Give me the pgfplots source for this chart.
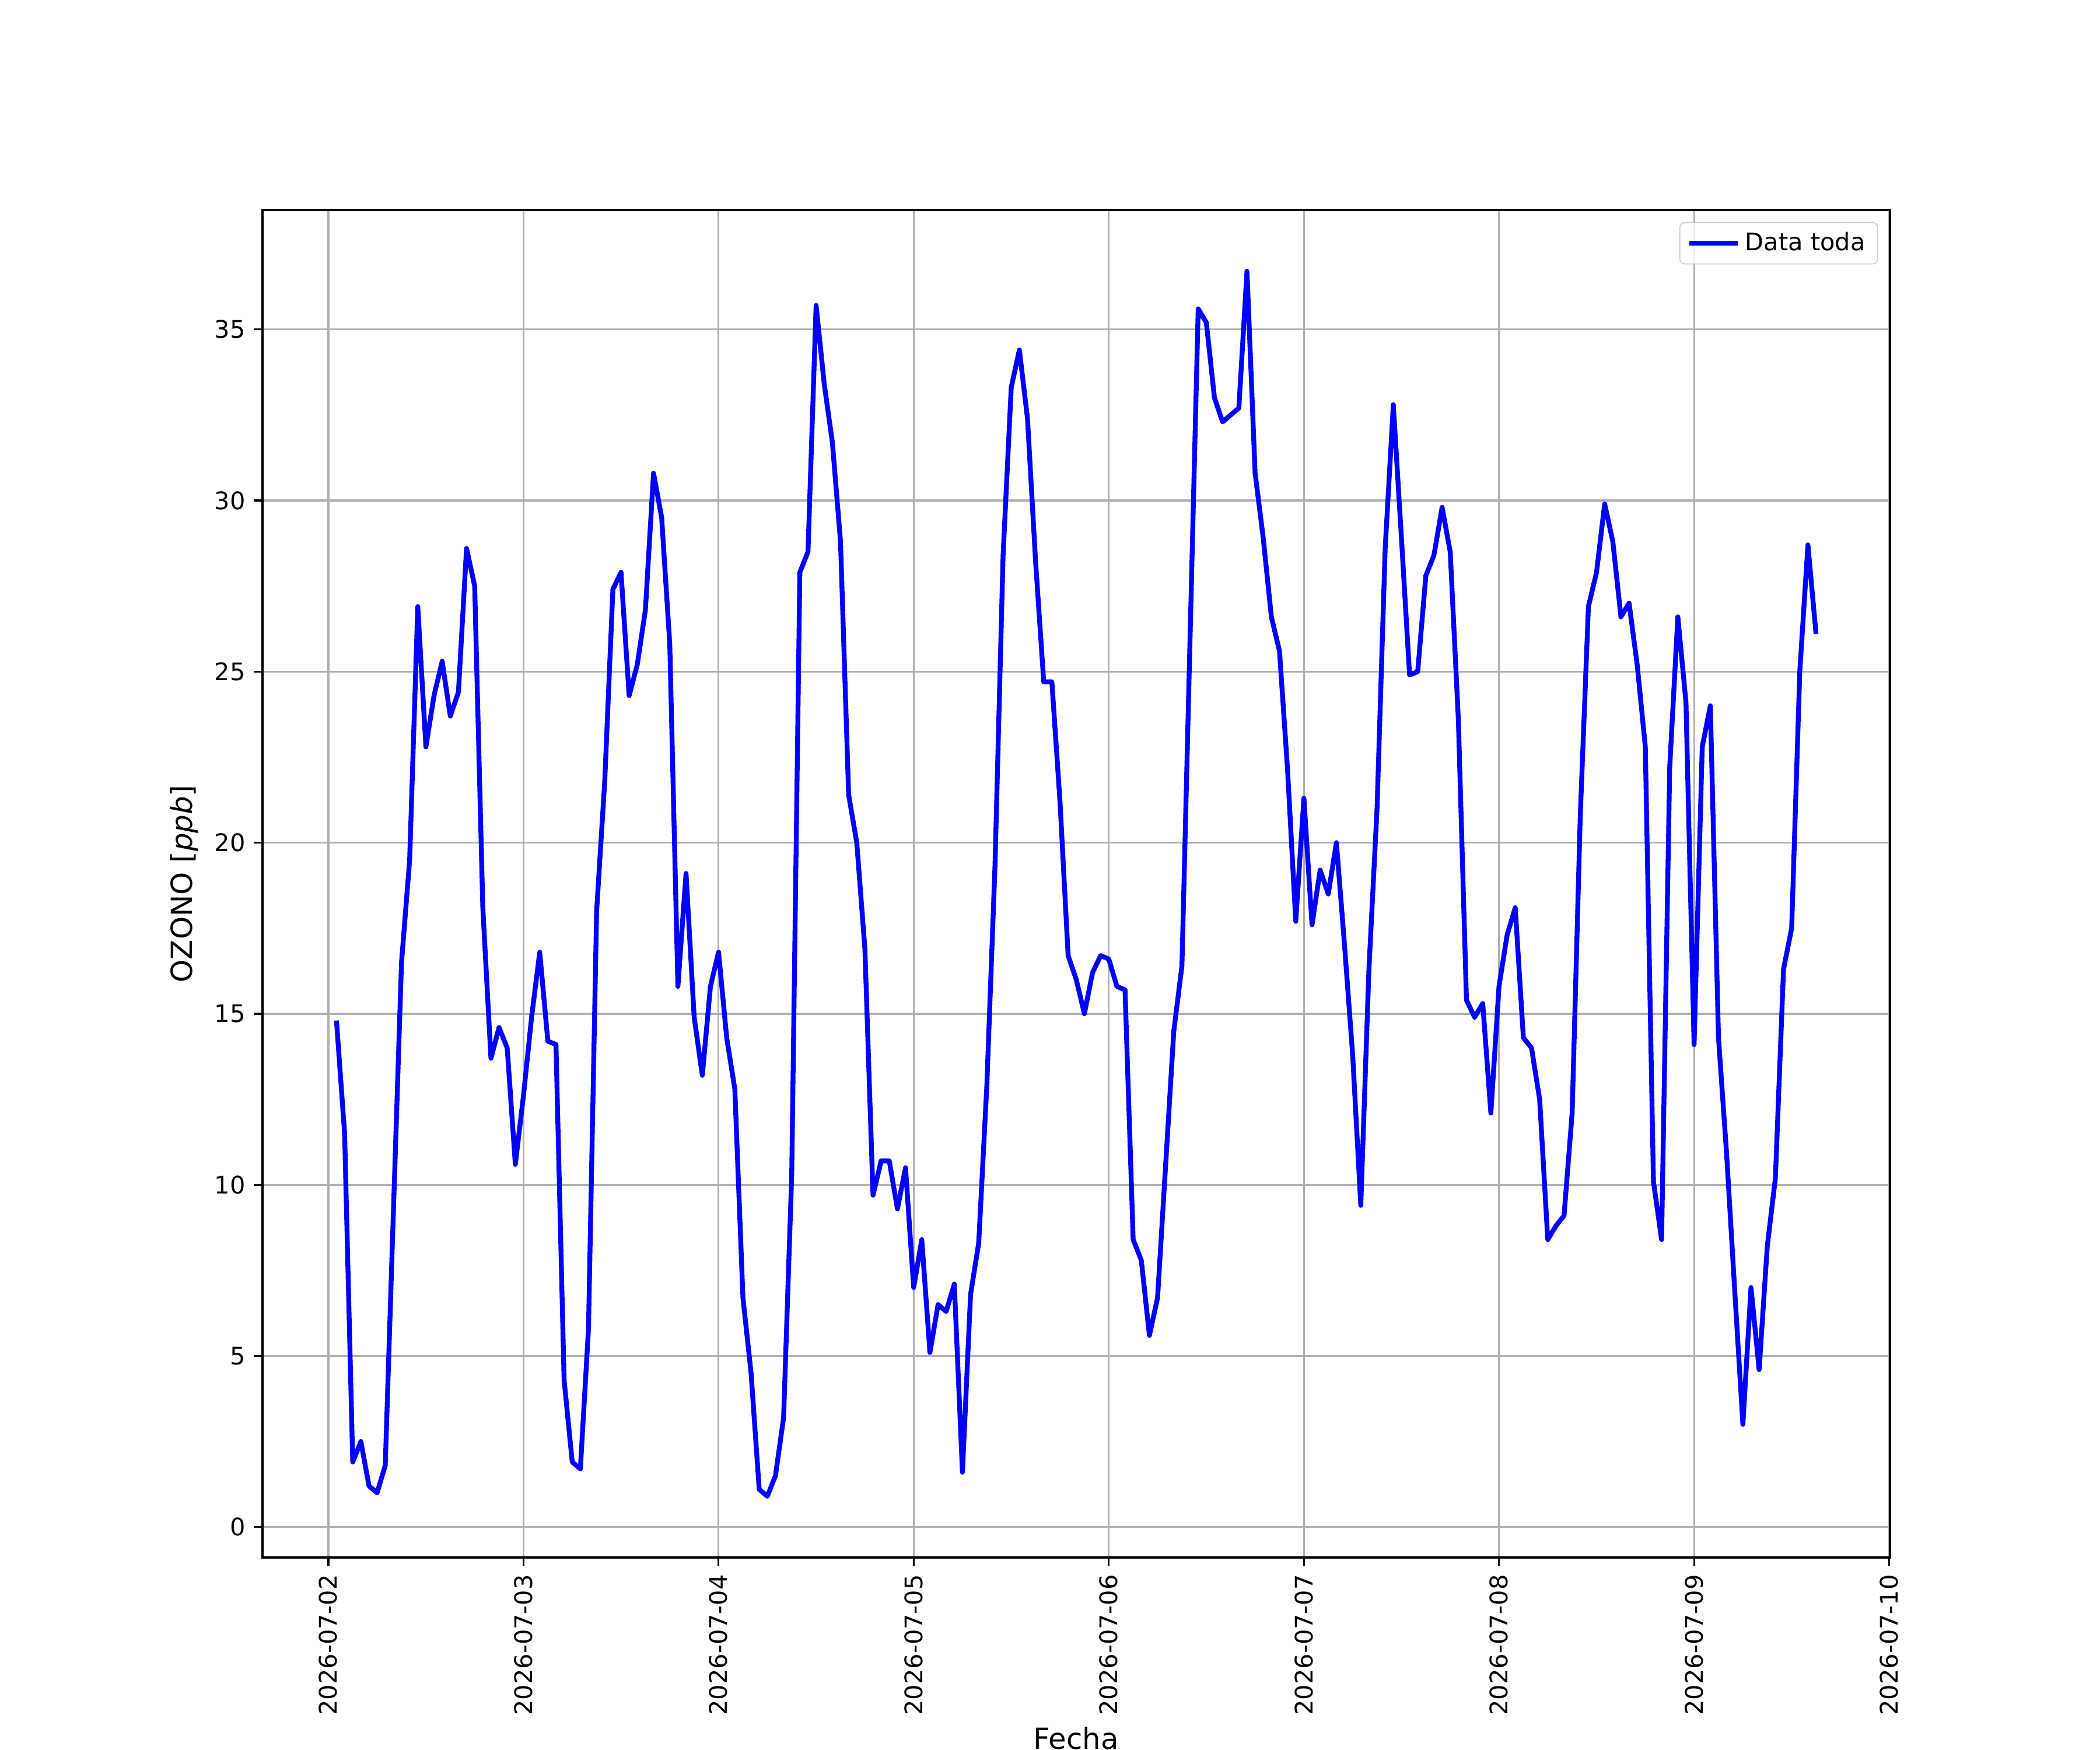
\documentclass[border=0pt]{standalone}
\usepackage{fontspec}
\setmainfont{DejaVu Sans}
\usepackage{pgfplots}
\usepackage{pgfplotstable}
\pgfplotsset{compat=1.18}
\pgfplotstableread{
d h v
0 1 14.8
0 2 11.5
0 3 1.9
0 4 2.5
0 5 1.2
0 6 1.0
0 7 1.8
0 8 9.2
0 9 16.5
0 10 19.5
0 11 26.9
0 12 22.8
0 13 24.3
0 14 25.3
0 15 23.7
0 16 24.4
0 17 28.6
0 18 27.5
0 19 18.1
0 20 13.7
0 21 14.6
0 22 14.0
0 23 10.6
1 0 12.6
1 1 14.9
1 2 16.8
1 3 14.2
1 4 14.1
1 5 4.3
1 6 1.9
1 7 1.7
1 8 5.8
1 9 18.0
1 10 21.8
1 11 27.4
1 12 27.9
1 13 24.3
1 14 25.2
1 15 26.8
1 16 30.8
1 17 29.5
1 18 25.8
1 19 15.8
1 20 19.1
1 21 14.9
1 22 13.2
1 23 15.8
2 0 16.8
2 1 14.3
2 2 12.8
2 3 6.7
2 4 4.5
2 5 1.1
2 6 0.9
2 7 1.5
2 8 3.2
2 9 10.3
2 10 27.9
2 11 28.5
2 12 35.7
2 13 33.4
2 14 31.7
2 15 28.8
2 16 21.4
2 17 20.0
2 18 16.9
2 19 9.7
2 20 10.7
2 21 10.7
2 22 9.3
2 23 10.5
3 0 7.0
3 1 8.4
3 2 5.1
3 3 6.5
3 4 6.3
3 5 7.1
3 6 1.6
3 7 6.8
3 8 8.3
3 9 12.9
3 10 19.3
3 11 28.4
3 12 33.3
3 13 34.4
3 14 32.4
3 15 28.2
3 16 24.7
3 17 24.7
3 18 21.2
3 19 16.7
3 20 16.0
3 21 15.0
3 22 16.2
3 23 16.7
4 0 16.6
4 1 15.8
4 2 15.7
4 3 8.4
4 4 7.8
4 5 5.6
4 6 6.7
4 7 10.6
4 8 14.5
4 9 16.4
4 10 26.0
4 11 35.6
4 12 35.2
4 13 33.0
4 14 32.3
4 15 32.5
4 16 32.7
4 17 36.7
4 18 30.8
4 19 28.9
4 20 26.6
4 21 25.6
4 22 22.1
4 23 17.7
5 0 21.3
5 1 17.6
5 2 19.2
5 3 18.5
5 4 20.0
5 5 17.0
5 6 13.8
5 7 9.4
5 8 16.3
5 9 21.0
5 10 28.6
5 11 32.8
5 12 28.9
5 13 24.9
5 14 25.0
5 15 27.8
5 16 28.4
5 17 29.8
5 18 28.5
5 19 23.6
5 20 15.4
5 21 14.9
5 22 15.3
5 23 12.1
6 0 15.8
6 1 17.3
6 2 18.1
6 3 14.3
6 4 14.0
6 5 12.5
6 6 8.4
6 7 8.8
6 8 9.1
6 9 12.1
6 10 20.8
6 11 26.9
6 12 27.9
6 13 29.9
6 14 28.8
6 15 26.6
6 16 27.0
6 17 25.2
6 18 22.8
6 19 10.1
6 20 8.4
6 21 22.2
6 22 26.6
6 23 24.1
7 0 14.1
7 1 22.8
7 2 24.0
7 3 14.3
7 4 10.9
7 5 6.9
7 6 3.0
7 7 7.0
7 8 4.6
7 9 8.2
7 10 10.2
7 11 16.3
7 12 17.5
7 13 25.0
7 14 28.7
7 15 26.1
}\datatable

\begin{document}
\begin{tikzpicture}
\useasboundingbox (0,0) rectangle (12in,10in);
\begin{axis}[
  at={(1.5in,1.1in)}, anchor=south west,
  width=9.3in, height=7.7in, scale only axis,
  xmin=-8.1, xmax=192.1, ymin=-0.89, ymax=38.49,
  xtick={0,24,48,72,96,120,144,168,192},
  xticklabels={2026-07-02,2026-07-03,2026-07-04,2026-07-05,2026-07-06,2026-07-07,2026-07-08,2026-07-09,2026-07-10},
  xticklabel style={rotate=90, anchor=east},
  ytick={0,5,10,15,20,25,30,35},
  xtick pos=bottom, ytick pos=left,
  tick align=outside, major tick length=3.5pt,
  tick style={black, line width=0.8pt},
  grid=major, grid style={color=black!31, line width=0.8pt},
  axis line style={line width=0.8pt},
  xlabel={Fecha}, ylabel={OZONO [\textit{ppb}]},
  label style={font=\fontsize{12}{14}\selectfont},
  xlabel style={yshift=2pt},
  ticklabel style={font=\fontsize{10}{12}\selectfont},
  /pgf/number format/assume math mode=true,
  legend style={at={(1,1)}, xshift=-5pt, yshift=-5pt, anchor=north east,
    draw=black!20, rounded corners=2pt, fill=white, fill opacity=0.8, text opacity=1,
    font=\fontsize{10}{12}\selectfont, inner xsep=3pt, inner ysep=2pt},
  legend cell align=left,
  legend image code/.code={\draw[#1] (0pt,0pt) -- (20pt,0pt);},
]
\addplot[blue, line width=2pt, line join=round] table[x expr=\thisrow{d}*24+\thisrow{h}, y=v]{\datatable};
\addlegendentry{Data toda}
\end{axis}
\end{tikzpicture}
\end{document}
